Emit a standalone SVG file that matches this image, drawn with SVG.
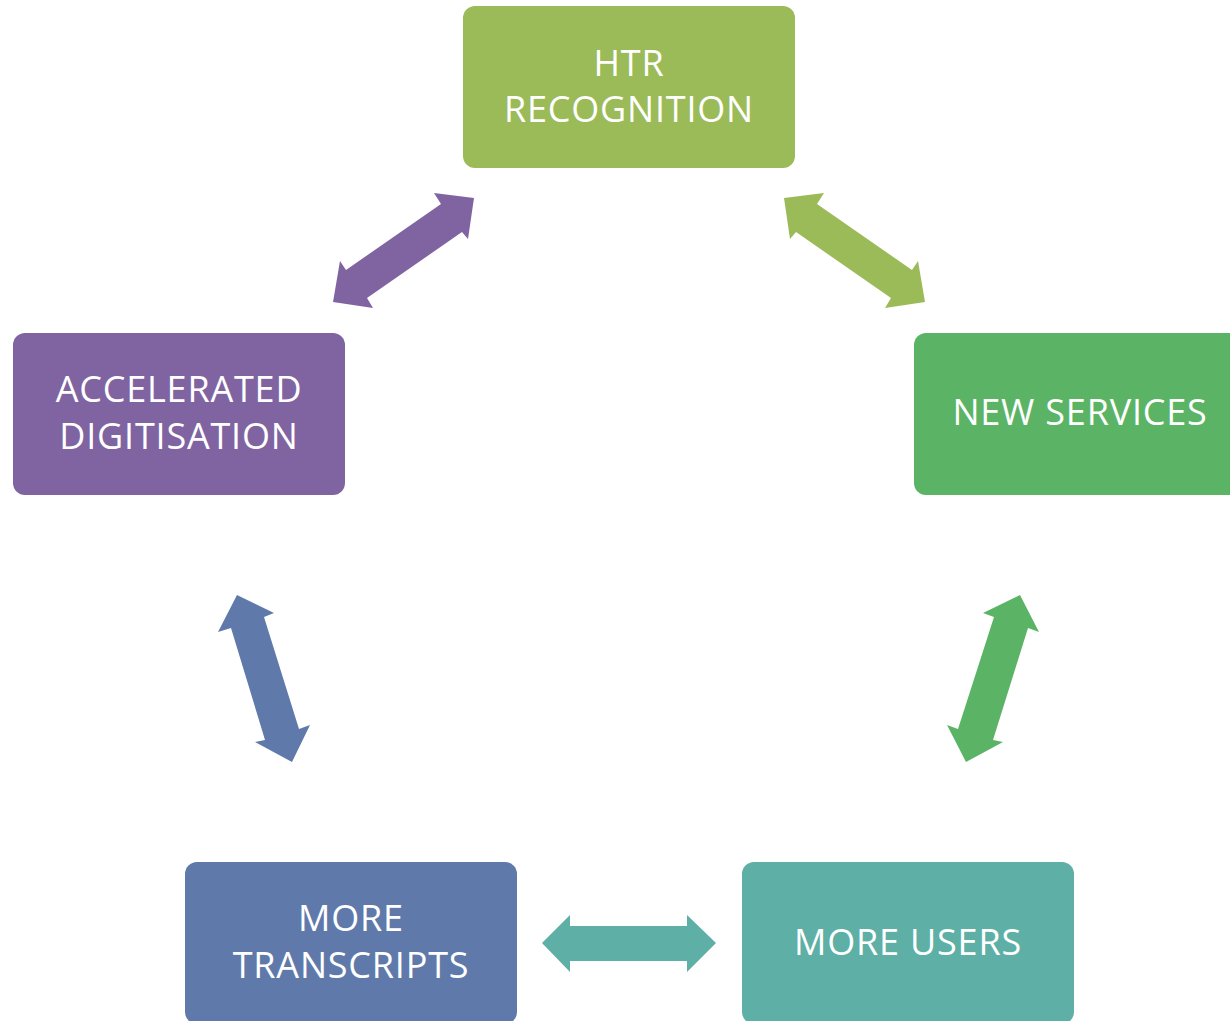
<svg xmlns="http://www.w3.org/2000/svg" width="1230" height="1021" viewBox="0 0 1230 1021">
  <style>
    .box text { fill: #ffffff; font-family: "Open Sans", "Liberation Sans", sans-serif; font-size: 36px; letter-spacing: 0.8px; text-anchor: middle; }
  </style>
  <rect width="1230" height="1021" fill="#ffffff"/>

  <!-- double-headed block arrows between the stages -->
  <g id="connectors">
    <polygon fill="#8064A2" points="474,198 434,193 441,204 346,270 340,261 333,302 373,308 367,298 462,232 468,239"/>
    <polygon fill="#9BBB59" points="784,198 824,193 817,204 912,270 918,261 925,302 885,308 891,298 796,232 790,239"/>
    <polygon fill="#5F7AAA" points="237,595 218,632 231,628 265,740 255,742 292,762 310,725 299,729 264,617 274,613"/>
    <polygon fill="#5BB466" points="1020,595 1039,632 1028,628 993,740 1003,742 966,762 947,725 958,729 994,617 983,613"/>
    <polygon fill="#5EAFA5" points="542,943 570,915 570,926 687,926 687,915 716,943 687,972 687,961 570,961 570,972"/>
  </g>

  <g id="htr-recognition" class="box">
    <rect x="463" y="6" width="332" height="162" rx="12" fill="#9BBB59"/>
    <text x="629" y="76">HTR</text>
    <text x="629" y="122">RECOGNITION</text>
  </g>

  <g id="accelerated-digitisation" class="box">
    <rect x="13" y="333" width="332" height="162" rx="12" fill="#8064A2"/>
    <text x="179" y="402">ACCELERATED</text>
    <text x="179" y="449">DIGITISATION</text>
  </g>

  <g id="new-services" class="box">
    <rect x="914" y="333" width="332" height="162" rx="12" fill="#5BB466"/>
    <text x="1080" y="425">NEW SERVICES</text>
  </g>

  <g id="more-transcripts" class="box">
    <rect x="185" y="862" width="332" height="162" rx="12" fill="#5F7AAA"/>
    <text x="351" y="931">MORE</text>
    <text x="351" y="978">TRANSCRIPTS</text>
  </g>

  <g id="more-users" class="box">
    <rect x="742" y="862" width="332" height="162" rx="12" fill="#5EAFA5"/>
    <text x="908" y="955">MORE USERS</text>
  </g>
</svg>
